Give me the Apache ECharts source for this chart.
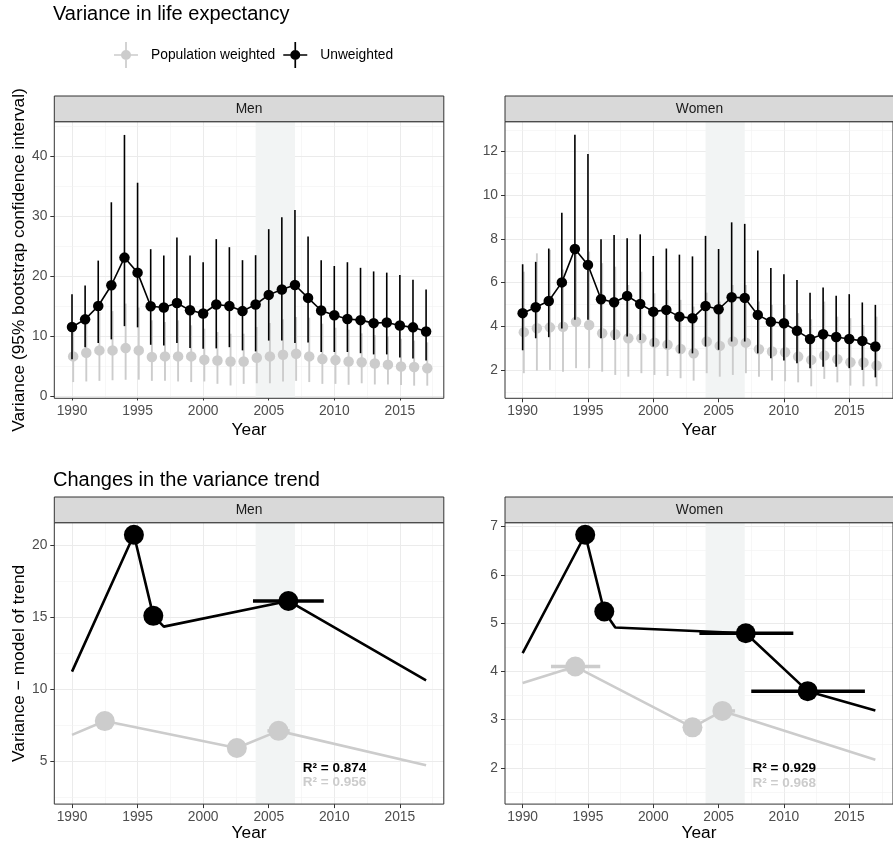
<!DOCTYPE html>
<html><head><meta charset="utf-8">
<script src="https://cdn.jsdelivr.net/npm/echarts@6/dist/echarts.min.js"></script>
<style>html,body{margin:0;padding:0;background:#fff}#c{width:893px;height:843px}</style>
</head><body><div id="c"></div>
<script>
// ---------- data ----------
const years = [1990,1991,1992,1993,1994,1995,1996,1997,1998,1999,2000,2001,2002,2003,2004,2005,2006,2007,2008,2009,2010,2011,2012,2013,2014,2015,2016,2017];

const menUnwEst = [11.55,12.83,15.05,18.5,23.1,20.6,15.0,14.8,15.55,14.33, 13.8,15.3,15.05,14.2,15.3,16.9,17.8,18.55,16.4,14.3, 13.5,12.9,12.7,12.2,12.3,11.8,11.5,10.8];
const menUnwLo  = [6.2,8.2,8.9,9.5,11.7,11.5,8.6,8.5,8.9,8.05, 7.95,8.0,8.2,7.67,7.5,9.3,9.3,8.9,9.0,7.4, 7.4,7.4,7.2,7.0,7.0,6.5,6.3,6.0];
const menUnwHi  = [17.0,18.45,22.6,32.3,43.5,35.55,24.5,23.45,26.45,23.45, 22.33,26.17,24.83,22.67,23.5,27.83,29.83,31.0,26.6,22.67, 21.7,22.33,21.4,20.8,20.6,20.2,19.4,17.8];

const menPopEst = [6.67,7.28,7.67,7.67,8.05,7.67,6.56,6.67,6.67,6.67, 6.11,6.0,5.83,5.83,6.44,6.67,6.94,7.1,6.67,6.22, 6.05,5.83,5.7,5.5,5.3,5.0,4.9,4.7];
const menPopLo  = [2.4,2.5,2.6,2.7,2.78,2.8,2.6,2.6,2.5,2.4, 2.5,2.11,1.83,2.1,2.2,2.2,2.5,2.6,2.4,2.1, 2.1,1.95,2.2,2.0,2.0,1.9,1.8,1.8];
const menPopHi  = [12.0,13.0,14.05,14.2,15.45,14.8,12.67,12.4,12.67,11.83, 11.28,10.72,10.44,10.44,11.56,12.22,12.83,13.22,13.11,12.11, 11.44,11.11,10.5,10.2,10.0,9.6,9.3,9.0];

const womenUnwEst = [4.60,4.87,5.16,6.01,7.54,6.81,5.24,5.10,5.39,5.02, 4.67,4.75,4.44,4.37,4.93,4.78,5.33,5.30,4.52,4.21, 4.14,3.79,3.42,3.63,3.51,3.42,3.33,3.07];
const womenUnwLo  = [2.9,3.45,3.50,3.9,4.3,4.3,3.45,3.37,3.53,3.37, 3.07,2.99,2.76,2.76,3.07,2.92,3.30,3.30,2.76,2.53, 2.43,2.31,2.08,2.15,2.15,2.08,2.0,1.66];
const womenUnwHi  = [6.84,6.95,7.56,9.2,12.77,11.89,7.98,8.18,8.03,8.21, 7.22,7.56,7.28,7.2,8.14,7.54,8.76,8.69,7.47,6.67, 6.38,6.12,5.54,5.78,5.40,5.47,5.09,4.98];

const womenPopEst = [3.73,3.91,3.95,3.98,4.21,4.06,3.68,3.63,3.45,3.45, 3.25,3.15,2.96,2.76,3.30,3.10,3.30,3.25,2.95,2.84, 2.81,2.61,2.46,2.66,2.49,2.35,2.34,2.20];
const womenPopLo  = [1.85,1.97,2.0,1.92,2.08,2.08,1.92,1.77,1.69,1.85, 1.77,1.72,1.62,1.51,1.85,1.69,1.77,1.85,1.69,1.51, 1.48,1.43,1.25,1.59,1.43,1.28,1.25,1.25];
const womenPopHi  = [6.5,7.34,7.5,6.6,7.5,7.42,6.89,6.73,5.89,6.50, 5.51,5.66,5.21,4.90,5.54,5.13,5.89,5.89,5.13,4.98, 4.98,4.60,4.32,5.13,4.44,4.37,4.06,4.44];

// trend model (bottom panels): [year, value]
const menTrendUnw = [[1990,11.24],[1994.72,20.73],[1996.2,15.11],[1997,14.36],[2006.5,16.14],[2017,10.63]];
const menTrendPop = [[1990,6.85],[1992.5,7.81],[2002.57,5.94],[2005.75,7.13],[2017,4.74]];
const menBreakUnw = [[1994.72,20.73],[1996.2,15.11],[2006.5,16.14]];
const menBreakPop = [[1992.5,7.81],[2002.57,5.94],[2005.75,7.13]];
const menCIUnw = [[2003.8,2009.2,16.14]];
const menCIPop = [[2004.9,2006.6,7.13]];

const womenTrendUnw = [[1990,4.38],[1994.79,6.83],[1996.25,5.24],[1997.09,4.91],[2007.08,4.79],[2011.82,3.59],[2017,3.19]];
const womenTrendPop = [[1990,3.76],[1994.03,4.10],[2003.0,2.84],[2005.29,3.18],[2017,2.17]];
const womenBreakUnw = [[1994.79,6.83],[1996.25,5.24],[2007.08,4.79],[2011.82,3.59]];
const womenBreakPop = [[1994.03,4.10],[2003.0,2.84],[2005.29,3.18]];
const womenCIUnw = [[2003.53,2010.72,4.79],[2007.5,2016.2,3.59]];
const womenCIPop = [[1992.17,1995.94,4.10],[2004.9,2006.26,3.18]];

const menR2 = [[2007.6,4.53,'R\u00b2 = 0.874'],[2007.6,3.55,'R\u00b2 = 0.956']];
const womenR2 = [[2007.6,1.99,'R\u00b2 = 0.929'],[2007.6,1.69,'R\u00b2 = 0.968']];

const band = [2004, 2007];

// ticks
const xTicks = [1990,1995,2000,2005,2010,2015];
const xMinor = [1992.5,1997.5,2002.5,2007.5,2012.5,2017.5];
const yTicksTL = [0,10,20,30,40],   yMinorTL = [5,15,25,35,45];
const yTicksTR = [2,4,6,8,10,12],   yMinorTR = [1,3,5,7,9,11,13];
const yTicksBL = [5,10,15,20],      yMinorBL = [2.5,7.5,12.5,17.5];
const yTicksBR = [2,3,4,5,6,7],     yMinorBR = [1.5,2.5,3.5,4.5,5.5,6.5];

// ---------- layout / style ----------
const FONT = '"Liberation Sans", Arial, Helvetica, sans-serif';
const GRAY = '#CCCCCC', BLACK = '#000000';
const grids = [
  {left:54.3, top:121.7, width:389.5, height:276.6},
  {left:505,  top:121.7, width:389,   height:276.6},
  {left:54.3, top:522.7, width:389.5, height:285.6},
  {left:505,  top:522.7, width:389,   height:285.6}
];
const yLims = [[-0.3,45.7],[0.7,13.37],[2.05,21.57],[1.25,7.08]];
const yTicks = [yTicksTL,yTicksTR,yTicksBL,yTicksBR];
const yMinors = [yMinorTL,yMinorTR,yMinorBL,yMinorBR];
const xMin = years[0] - 0.05*(years[years.length-1]-years[0]);
const xMax = years[years.length-1] + 0.05*(years[years.length-1]-years[0]);
const DODGE = 0.09;

const MAJ = {type:'solid', color:'#EBEBEB', width:1};
const MIN = {type:'solid', color:'#F2F2F2', width:0.6};

function gridMarkers(gi){
  const d = [];
  xTicks.forEach(v=>d.push({xAxis:v, lineStyle:MAJ}));
  xMinor.forEach(v=>d.push({xAxis:v, lineStyle:MIN}));
  yTicks[gi].forEach(v=>d.push({yAxis:v, lineStyle:MAJ}));
  yMinors[gi].forEach(v=>d.push({yAxis:v, lineStyle:MIN}));
  return {
    markLine:{silent:true, z:1, symbol:['none','none'], animation:false, label:{show:false},
      lineStyle:{type:'solid'}, emphasis:{disabled:true}, data:d},
    markArea:{silent:true, z:2, animation:false, itemStyle:{color:'#F2F4F4'},
      data:[[{xAxis:band[0]},{xAxis:band[1]}]]}
  };
}

function vBars(gi, lo, hi, dx, color, w, z){
  return {type:'custom', xAxisIndex:gi, yAxisIndex:gi, z:z, silent:true,
    data: years.map((y,i)=>[y+dx, lo[i], hi[i]]),
    renderItem:(p,api)=>{
      const a = api.coord([api.value(0), api.value(1)]);
      const b = api.coord([api.value(0), api.value(2)]);
      return {type:'line', shape:{x1:a[0],y1:a[1],x2:b[0],y2:b[1]}, style:{stroke:color, lineWidth:w}};
    }};
}
function hBars(gi, arr, color, w, z){
  return {type:'custom', xAxisIndex:gi, yAxisIndex:gi, z:z, silent:true,
    data: arr,
    renderItem:(p,api)=>{
      const a = api.coord([api.value(0), api.value(2)]);
      const b = api.coord([api.value(1), api.value(2)]);
      return {type:'line', shape:{x1:a[0],y1:a[1],x2:b[0],y2:b[1]}, style:{stroke:color, lineWidth:w}};
    }};
}
function dots(gi, data, color, size, z, name){
  const s = {type:'scatter', xAxisIndex:gi, yAxisIndex:gi, z:z, data:data, symbol:'circle',
    symbolSize:size, itemStyle:{color:color, opacity:1}, silent:true, emphasis:{disabled:true}};
  if (name) s.name = name;
  return s;
}
function line(gi, data, color, w, z, withMarkers){
  const s = {type:'line', xAxisIndex:gi, yAxisIndex:gi, z:z, data:data, showSymbol:false,
    symbol:'none', lineStyle:{color:color, width:w}, itemStyle:{color:color}, silent:true,
    emphasis:{disabled:true}};
  if (withMarkers) Object.assign(s, gridMarkers(gi));
  return s;
}
function texts(gi, arr, colors){
  return {type:'custom', xAxisIndex:gi, yAxisIndex:gi, z:9, silent:true,
    data: arr.map(a=>[a[0],a[1]]),
    renderItem:(p,api)=>{
      const c = api.coord([api.value(0), api.value(1)]);
      return {type:'text', x:c[0], y:c[1], style:{text:arr[p.dataIndex][2], fill:colors[p.dataIndex],
        font:'bold 13.5px ' + FONT, align:'left', verticalAlign:'middle'}};
    }};
}

const series = [];
// top-left (men)
series.push(vBars(0, menPopLo, menPopHi, DODGE, GRAY, 1.9, 3));
series.push(dots(0, years.map((y,i)=>[y+DODGE, menPopEst[i]]), GRAY, 10.5, 4, 'Population weighted'));
series.push(line(0, years.map((y,i)=>[y, menUnwEst[i]]), BLACK, 1.6, 5, true));
series.push(vBars(0, menUnwLo, menUnwHi, 0, BLACK, 1.6, 6));
series.push(dots(0, years.map((y,i)=>[y, menUnwEst[i]]), BLACK, 10.5, 7, 'Unweighted'));
// top-right (women)
series.push(vBars(1, womenPopLo, womenPopHi, DODGE, GRAY, 1.9, 3));
series.push(dots(1, years.map((y,i)=>[y+DODGE, womenPopEst[i]]), GRAY, 10.5, 4, 'Population weighted'));
series.push(line(1, years.map((y,i)=>[y, womenUnwEst[i]]), BLACK, 1.6, 5, true));
series.push(vBars(1, womenUnwLo, womenUnwHi, 0, BLACK, 1.6, 6));
series.push(dots(1, years.map((y,i)=>[y, womenUnwEst[i]]), BLACK, 10.5, 7, 'Unweighted'));
// bottom-left (men trend)
series.push(line(2, menTrendPop, GRAY, 2.6, 3, false));
series.push(hBars(2, menCIPop, GRAY, 3.5, 4));
series.push(dots(2, menBreakPop, GRAY, 20, 4));
series.push(line(2, menTrendUnw, BLACK, 2.6, 5, true));
series.push(hBars(2, menCIUnw, BLACK, 3.5, 6));
series.push(dots(2, menBreakUnw, BLACK, 20, 7));
series.push(texts(2, menR2, [BLACK, GRAY]));
// bottom-right (women trend)
series.push(line(3, womenTrendPop, GRAY, 2.6, 3, false));
series.push(hBars(3, womenCIPop, GRAY, 3.5, 4));
series.push(dots(3, womenBreakPop, GRAY, 20, 4));
series.push(line(3, womenTrendUnw, BLACK, 2.6, 5, true));
series.push(hBars(3, womenCIUnw, BLACK, 3.5, 6));
series.push(dots(3, womenBreakUnw, BLACK, 20, 7));
series.push(texts(3, womenR2, [BLACK, GRAY]));

const xNameGaps = [23, 23, 15, 15];
const yNames = ['Variance (95% bootstrap confidence interval)', '', 'Variance \u2212 model of trend', ''];
const plainNum = v => String(v);

const xAxes = grids.map((g,gi)=>({type:'value', gridIndex:gi, min:xMin, max:xMax,
  axisLine:{show:false}, splitLine:{show:false},
  axisTick:{show:true, customValues:xTicks, length:4, lineStyle:{color:'#333', width:1}},
  axisLabel:{customValues:xTicks, formatter:plainNum, color:'#4D4D4D', fontSize:13.8, fontFamily:FONT, margin:6},
  name:'Year', nameLocation:'middle', nameGap:xNameGaps[gi],
  nameTextStyle:{fontSize:17.3, color:'#000', fontFamily:FONT}}));
const yAxes = grids.map((g,gi)=>({type:'value', gridIndex:gi, min:yLims[gi][0], max:yLims[gi][1],
  axisLine:{show:false}, splitLine:{show:false},
  axisTick:{show:true, customValues:yTicks[gi], length:4, lineStyle:{color:'#333', width:1}},
  axisLabel:{customValues:yTicks[gi], formatter:plainNum, color:'#4D4D4D', fontSize:13.8, fontFamily:FONT, margin:7},
  name:yNames[gi], nameLocation:'middle', nameGap:26.5,
  nameTextStyle:{fontSize:17.3, color:'#000', fontFamily:FONT}}));

// strips
const stripLabels = ['Men','Women','Men','Women'];
const graphics = [];
grids.forEach((g,gi)=>{
  const top = g.top - 25.7;
  graphics.push({type:'rect', z:20, shape:{x:g.left, y:top, width:g.width, height:25.7},
    style:{fill:'#D9D9D9', stroke:'#333', lineWidth:1}});
  graphics.push({type:'text', z:21, x:g.left+g.width/2, y:top+12.85,
    style:{text:stripLabels[gi], font:'13.8px '+FONT, fill:'#1A1A1A', align:'center', verticalAlign:'middle'}});
});

const ICON = 'path://M0 12.15L24 12.15L24 13.85L0 13.85Z M11.15 0L12.85 0L12.85 26L11.15 26Z M17 13A5 5 0 1 1 7 13A5 5 0 1 1 17 13Z';

const chart = echarts.init(document.getElementById('c'), null, {renderer:'canvas'});
chart.setOption({
  animation:false,
  backgroundColor:'#ffffff',
  title:[
    {text:'Variance in life expectancy', left:53, top:4, padding:0,
      textStyle:{fontSize:20, fontWeight:'normal', color:'#000', fontFamily:FONT}},
    {text:'Changes in the variance trend', left:53, top:470, padding:0,
      textStyle:{fontSize:20, fontWeight:'normal', color:'#000', fontFamily:FONT}}
  ],
  legend:{left:114, top:42, padding:0, itemWidth:24, itemHeight:26, itemGap:8, selectedMode:false,
    textStyle:{fontSize:13.8, color:'#000', fontFamily:FONT, padding:[0,0,0,8]},
    data:[{name:'Population weighted', icon:ICON, itemStyle:{color:GRAY}},
          {name:'Unweighted', icon:ICON, itemStyle:{color:BLACK}}]},
  grid: grids.map(g=>Object.assign({show:true, z:10, backgroundColor:'transparent', borderColor:'#333', borderWidth:1, containLabel:false}, g)),
  xAxis: xAxes,
  yAxis: yAxes,
  graphic: graphics,
  series: series
});
</script></body></html>
